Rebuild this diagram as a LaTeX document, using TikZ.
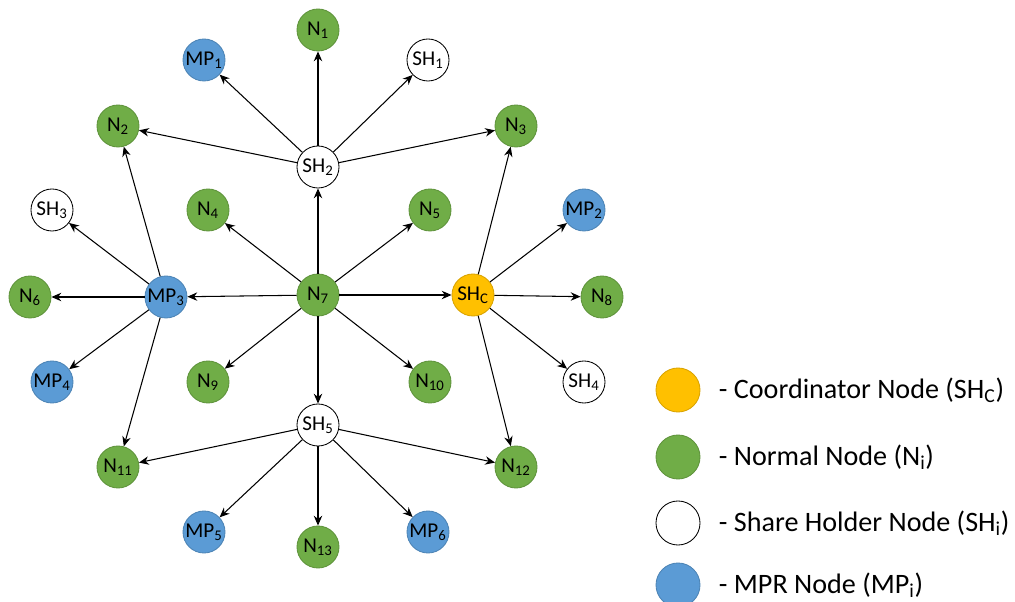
\documentclass[tikz,border=0pt]{standalone}
\usepackage{fontspec}
\setmainfont{Carlito}
\usetikzlibrary{arrows.meta}
\definecolor{normal}{HTML}{70AD47}
\definecolor{mpr}{HTML}{5B9BD5}
\definecolor{coord}{HTML}{FFC000}

\begin{document}
\begin{tikzpicture}[>={Stealth[length=7pt,width=6pt]},x=0.025cm,y=-0.025cm,font=\fontsize{15}{17}\selectfont]
\tikzstyle{nd}=[circle,minimum size=1.05cm,inner sep=0pt,line width=0.6pt]
\tikzstyle{nn}=[nd,fill=normal,draw=normal!85!black]
\tikzstyle{mp}=[nd,fill=mpr,draw=mpr!85!black]
\tikzstyle{sh}=[nd,fill=white,draw=black]
\tikzstyle{co}=[nd,fill=coord,draw=coord!85!black]
\tikzstyle{lg}=[anchor=west,font=\fontsize{20}{24}\selectfont]
\useasboundingbox (0,0) rectangle (1015,602);
% nodes of the network
\foreach \n/\i/\x/\y in {n1/1/318/30,n2/2/118/126,n3/3/516/126,n4/4/208/210,n5/5/430/210,n6/6/30/297,n7/7/318/295,n8/8/602/297,n9/9/208/382,n10/10/430/382,n11/11/118/467,n12/12/516/467,n13/13/318/547} \node[nn] (\n) at (\x,\y) {N\textsubscript{\i}};
\foreach \n/\i/\x/\y in {mp1/1/204/60,mp2/2/584/210,mp3/3/166/297,mp4/4/52/382,mp5/5/204/532,mp6/6/428/532} \node[mp] (\n) at (\x,\y) {MP\textsubscript{\i}};
\foreach \n/\i/\x/\y in {sh1/1/428/60,sh2/2/318/167,sh3/3/52/210,sh4/4/584/382,sh5/5/318/425} \node[sh] (\n) at (\x,\y) {SH\textsubscript{\i}};
\node[co] (shc) at (473,295) {SH\textsubscript{C}};
% links
\foreach \s/\t in {n7/sh2,n7/n4,n7/n5,n7/mp3,n7/shc,n7/n9,n7/n10,n7/sh5,sh2/n1,sh2/mp1,sh2/sh1,sh2/n2,sh2/n3,mp3/n2,mp3/sh3,mp3/n6,mp3/mp4,mp3/n11,shc/n3,shc/mp2,shc/n8,shc/sh4,shc/n12,sh5/n11,sh5/mp5,sh5/n13,sh5/mp6,sh5/n12} \draw[->,line width=0.75pt] (\s) -- (\t);
% legend
\node[co,minimum size=1.1cm] (lco) at (678,390) {};
\node[lg] (tco) at (714,390) {- Coordinator Node (SH\textsubscript{C})};
\node[nn,minimum size=1.1cm] (lnn) at (678,457) {};
\node[lg] (tnn) at (714,457) {- Normal Node (N\textsubscript{i})};
\node[sh,minimum size=1.1cm] (lsh) at (678,523) {};
\node[lg] (tsh) at (714,523) {- Share Holder Node (SH\textsubscript{i})};
\node[mp,minimum size=1.1cm] (lmp) at (678,585) {};
\node[lg] (tmp) at (714,585) {- MPR Node (MP\textsubscript{i})};
\end{tikzpicture}
\end{document}
